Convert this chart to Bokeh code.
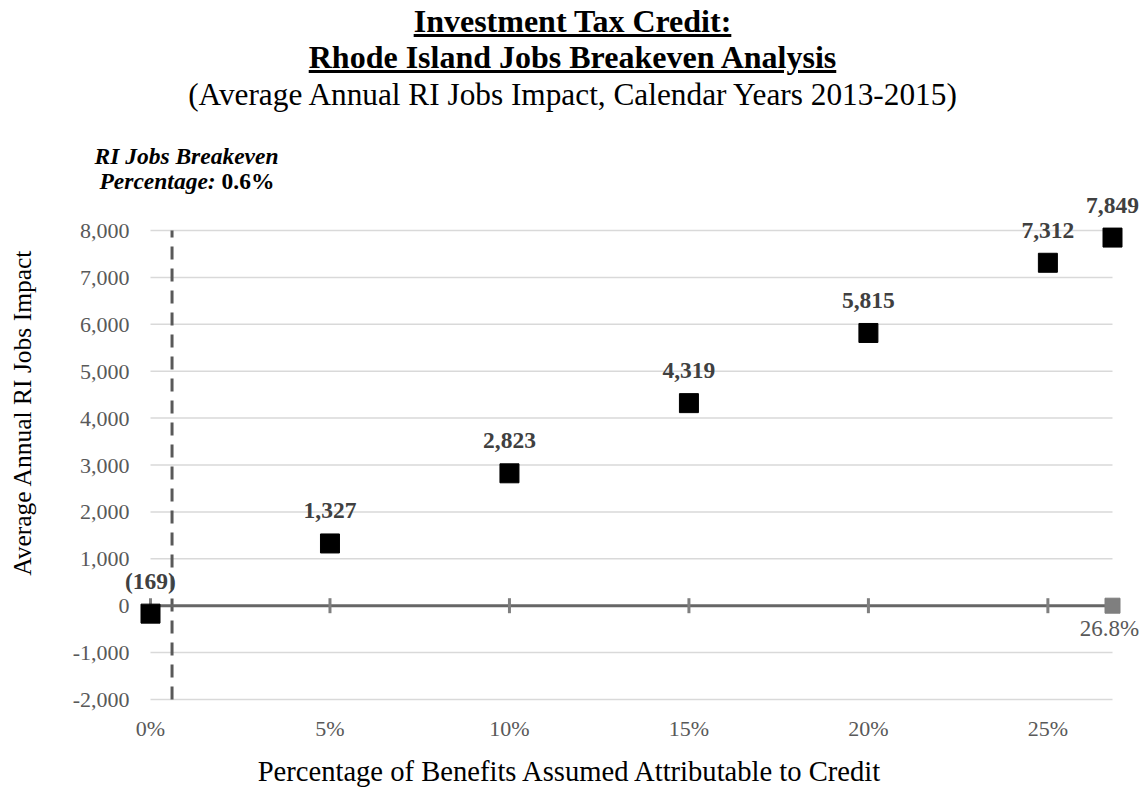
import math

from bokeh.core.properties import value
from bokeh.embed import file_html
from bokeh.layouts import column
from bokeh.models import ColumnDataSource, Div, Label, LabelSet, Range1d
from bokeh.plotting import figure
from bokeh.resources import INLINE

# Share of benefits attributed to the credit (%) and resulting average annual RI jobs
pct = [0, 5, 10, 15, 20, 25, 26.8]
jobs = [-169, 1327, 2823, 4319, 5815, 7312, 7849]

breakeven_pct = 0.6
max_pct = 26.8

x_ticks = [0, 5, 10, 15, 20, 25]
y_ticks = [-2000, -1000, 0, 1000, 2000, 3000, 4000, 5000, 6000, 7000, 8000]

title_lines = ["Investment Tax Credit:", "Rhode Island Jobs Breakeven Analysis"]
subtitle = "(Average Annual RI Jobs Impact, Calendar Years 2013-2015)"
x_title = "Percentage of Benefits Assumed Attributable to Credit"
y_title = "Average Annual RI Jobs Impact"
note_line1 = "RI Jobs Breakeven"
note_line2 = "Percentage:"

FONT = "Liberation Serif"
W, HEAD_H, FIG_H = 1145, 116, 672

# plot-area geometry inside the chart canvas (pixels from its top-left corner)
X0_PX, X1_PX = 150, 1112          # where 0% and the last percentage fall
YT_PX, YB_PX = 114, 583           # where the top and bottom ticks fall

px_per_pct = (X1_PX - X0_PX) / max_pct
px_per_job = (YB_PX - YT_PX) / (y_ticks[-1] - y_ticks[0])
x_range = Range1d(-X0_PX / px_per_pct, (W - X0_PX) / px_per_pct)
y_range = Range1d(y_ticks[0] - (FIG_H - YB_PX) / px_per_job,
                  y_ticks[-1] + YT_PX / px_per_job)


def fmt_jobs(v):
    return f"({abs(v):,})" if v < 0 else f"{v:,}"


src = ColumnDataSource(dict(pct=pct, jobs=jobs, label=[fmt_jobs(v) for v in jobs]))
xtick_src = ColumnDataSource(dict(x=x_ticks, y=[y_ticks[0]] * len(x_ticks),
                                  label=[f"{t}%" for t in x_ticks]))
ytick_src = ColumnDataSource(dict(x=[0] * len(y_ticks), y=y_ticks,
                                  label=[f"{t:,}" for t in y_ticks]))

# ---- heading: two underlined bold lines and a subtitle ----
head_html = f"""
<div style="position:relative;width:{W}px;height:{HEAD_H}px;font-family:'{FONT}',serif;color:#000;">
  <div style="position:absolute;left:0;top:1px;width:{W}px;text-align:center;font-size:32px;line-height:1.25;font-weight:bold;"><u>{title_lines[0]}</u></div>
  <div style="position:absolute;left:0;top:37px;width:{W}px;text-align:center;font-size:32px;line-height:1.25;font-weight:bold;"><u>{title_lines[1]}</u></div>
  <div style="position:absolute;left:0;top:75px;width:{W}px;text-align:center;font-size:31.3px;line-height:1.25;">{subtitle}</div>
</div>
"""
head = Div(text=head_html, width=W, height=HEAD_H, margin=0)

# ---- chart canvas ----
p = figure(width=W, height=FIG_H, x_range=x_range, y_range=y_range, title=None,
           x_axis_location=None, y_axis_location=None,
           output_backend="svg", toolbar_location=None,
           min_border_left=0, min_border_right=0, min_border_top=0, min_border_bottom=0,
           margin=0)
p.outline_line_color = None
p.grid.visible = False
p.background_fill_color = "white"
p.border_fill_color = "white"

# horizontal gridlines across the plotted span
grid_y = [g for g in y_ticks if g != 0]
p.segment(x0=[0] * len(grid_y), x1=[max_pct] * len(grid_y), y0=grid_y, y1=grid_y,
          line_color="#d9d9d9", line_width=1.5)

# breakeven percentage marker
p.segment(x0=[breakeven_pct], x1=[breakeven_pct], y0=[y_ticks[0]], y1=[y_ticks[-1]],
          line_color="#595959", line_width=3, line_dash="13 9")

# zero line with tick marks and end point
p.segment(x0=[0], x1=[max_pct], y0=[0], y1=[0], line_color="#666666", line_width=3)
p.scatter(x=x_ticks, y=[0] * len(x_ticks), marker="dash", angle=math.pi / 2,
          size=15, line_color="#7f7f7f", line_width=3)
p.scatter(x=[max_pct], y=[0], marker="square", size=15,
          fill_color="#7f7f7f", line_color="#7f7f7f")
p.add_layout(Label(x=max_pct, y=0, text=f"{max_pct}%", x_offset=-3, y_offset=-23,
                   text_align="center", text_baseline="middle",
                   text_font=FONT, text_font_size="23px", text_color="#595959"))

# jobs impact points with value labels
p.scatter(x="pct", y="jobs", source=src, marker="square", size=19,
          fill_color="black", line_color="black")
p.add_layout(LabelSet(x="pct", y="jobs", text="label", source=src, y_offset=25,
                      text_align="center", text_baseline="alphabetic",
                      text_font=value(FONT), text_font_style="bold",
                      text_font_size="23.5px", text_color="#404040"))

# tick labels
p.add_layout(LabelSet(x="x", y="y", text="label", source=xtick_src, y_offset=-36,
                      text_align="center", text_baseline="alphabetic",
                      text_font=value(FONT), text_font_size="22px", text_color="#595959"))
p.add_layout(LabelSet(x="x", y="y", text="label", source=ytick_src,
                      x_offset=-21, y_offset=-7.5,
                      text_align="right", text_baseline="alphabetic",
                      text_font=value(FONT), text_font_size="22px", text_color="#595959"))

# axis titles
p.add_layout(Label(x=570, y=17, x_units="screen", y_units="screen", text=x_title,
                   text_align="center", text_baseline="middle",
                   text_font=FONT, text_font_size="28.6px", text_color="black"))
p.add_layout(Label(x=22, y=376, x_units="screen", y_units="screen", text=y_title,
                   angle=math.pi / 2, text_align="center", text_baseline="middle",
                   text_font=FONT, text_font_size="25.5px", text_color="black"))

# breakeven annotation
p.add_layout(Label(x=186, y=633, x_units="screen", y_units="screen",
                   text=note_line1, text_align="center", text_baseline="middle",
                   text_font=FONT, text_font_style="bold italic",
                   text_font_size="23.5px", text_color="black"))
p.add_layout(Label(x=99, y=608, x_units="screen", y_units="screen",
                   text=note_line2, text_align="left", text_baseline="middle",
                   text_font=FONT, text_font_style="bold italic",
                   text_font_size="23.5px", text_color="black"))
p.add_layout(Label(x=221, y=608, x_units="screen", y_units="screen",
                   text=f"{breakeven_pct}%", text_align="left", text_baseline="middle",
                   text_font=FONT, text_font_style="bold",
                   text_font_size="23.5px", text_color="black"))

layout = column(head, p, spacing=0, margin=0)
open("out.html", "w").write(file_html(layout, INLINE))
